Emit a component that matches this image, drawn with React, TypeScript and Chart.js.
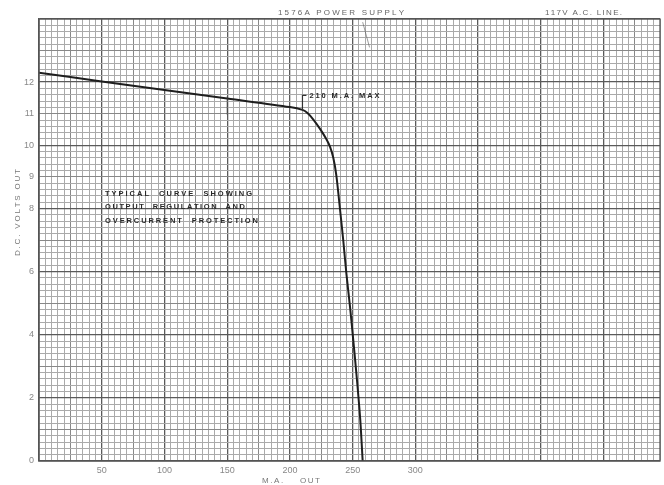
import React, { useEffect, useRef } from 'react';
import { Chart, registerables } from 'chart.js';

Chart.register(...registerables);

// ---- data ----
const currentMA = [0, 50, 100, 150, 200, 210, 214, 219, 224, 229, 232, 234.5, 237, 240, 242.5, 245, 248, 250.5, 253, 256, 258];
const voltsOut = [12.3, 12.02, 11.75, 11.48, 11.21, 11.12, 11.02, 10.8, 10.52, 10.2, 9.95, 9.62, 9.05, 7.95, 7.0, 5.94, 4.85, 3.83, 2.77, 1.35, 0];
const xTickLabels = [50, 100, 150, 200, 250, 300];
const yTickLabels = [0, 2, 4, 6, 8, 9, 10, 11, 12];
const xRange = [0, 495];
const yRange = [0, 14];
const headerLeft = '1576A POWER SUPPLY';
const headerRight = '117V A.C. LINE.';
const xTitle = 'M.A.    OUT';
const yTitle = 'D.C. VOLTS OUT';
const maxNote = '210 M.A. MAX';
const maxNoteAt = 210;
const noteLines = ['TYPICAL  CURVE  SHOWING', 'OUTPUT  REGULATION  AND', 'OVERCURRENT  PROTECTION'];

const FONT = '"Liberation Sans", "DejaVu Sans", sans-serif';

function drawSpaced(ctx: CanvasRenderingContext2D, text: string, x: number, y: number, width: number) {
  const chars = text.split('');
  const base = chars.reduce((s, c) => s + ctx.measureText(c).width, 0);
  const gap = chars.length > 1 ? (width - base) / (chars.length - 1) : 0;
  let cx = x;
  for (const c of chars) {
    ctx.fillText(c, cx, y);
    cx += ctx.measureText(c).width + gap;
  }
}

const annotations = {
  id: 'annotations',
  afterDatasetsDraw(chart: any) {
    const { ctx, chartArea, scales } = chart;
    const xs = scales.x;
    const ys = scales.y;
    ctx.save();
    // plot frame
    ctx.strokeStyle = '#555';
    ctx.lineWidth = 1.3;
    ctx.strokeRect(chartArea.left, chartArea.top, chartArea.right - chartArea.left, chartArea.bottom - chartArea.top);

    ctx.textBaseline = 'middle';
    ctx.textAlign = 'left';
    // header texts
    ctx.fillStyle = '#666';
    ctx.font = `8px ${FONT}`;
    drawSpaced(ctx, headerLeft, 278, 13, 126);
    drawSpaced(ctx, headerRight, 545, 13, 77);

    // note block
    ctx.fillStyle = '#2a2a2a';
    ctx.font = `bold 7.5px ${FONT}`;
    drawSpaced(ctx, noteLines[0], 105, 194, 147);
    drawSpaced(ctx, noteLines[1], 105, 207, 140);
    drawSpaced(ctx, noteLines[2], 105, 221, 153);

    // max marker
    const mx = xs.getPixelForValue(maxNoteAt);
    const yCurve = ys.getPixelForValue(11.12);
    const yTop = ys.getPixelForValue(11.58);
    ctx.strokeStyle = '#333';
    ctx.lineWidth = 1.2;
    ctx.beginPath();
    ctx.moveTo(mx, yCurve);
    ctx.lineTo(mx, yTop);
    ctx.lineTo(mx + 4, yTop);
    ctx.stroke();
    ctx.fillStyle = '#2a2a2a';
    drawSpaced(ctx, maxNote, mx + 7, yTop + 1, 70);

    // pencil marks from the scan
    ctx.strokeStyle = 'rgba(60,60,60,0.8)';
    ctx.lineWidth = 1;
    ctx.beginPath();
    ctx.moveTo(xs.getPixelForValue(150), ys.getPixelForValue(11.55));
    ctx.lineTo(xs.getPixelForValue(150), ys.getPixelForValue(10.97));
    ctx.stroke();
    ctx.strokeStyle = 'rgba(90,90,90,0.6)';
    ctx.beginPath();
    ctx.moveTo(xs.getPixelForValue(258), ys.getPixelForValue(13.9));
    ctx.lineTo(xs.getPixelForValue(263.5), ys.getPixelForValue(13.1));
    ctx.stroke();

    // axis titles
    ctx.fillStyle = '#777';
    ctx.font = `8px ${FONT}`;
    drawSpaced(ctx, xTitle, 262, 481, 58);
    ctx.translate(18, 213);
    ctx.rotate(-Math.PI / 2);
    drawSpaced(ctx, yTitle, -43, 0, 87);
    ctx.restore();
  },
};

function gridColorX(c: any) {
  const v = Math.round(c.tick.value);
  if (v % 50 === 0) return '#5a5a5a';
  if (v % 25 === 0) return '#888';
  return '#aaa';
}
function gridWidthX(c: any) {
  const v = Math.round(c.tick.value);
  return v % 50 === 0 ? 1.3 : 1;
}
function gridColorY(c: any) {
  const v = Math.round(c.tick.value * 5);
  if (v % 10 === 0) return '#5a5a5a';
  if (v % 5 === 0) return '#888';
  return '#aaa';
}
function gridWidthY(c: any) {
  const v = Math.round(c.tick.value * 5);
  return v % 10 === 0 ? 1.3 : 1;
}

export default function App() {
  const ref = useRef<HTMLCanvasElement>(null);
  useEffect(() => {
    if (!ref.current) return;
    const chart = new Chart(ref.current, {
      type: 'line',
      data: {
        datasets: [
          {
            data: currentMA.map((x, i) => ({ x, y: voltsOut[i] })),
            borderColor: '#1e1e1e',
            borderWidth: 2,
            pointRadius: 0,
            tension: 0.3,
            fill: false,
          },
        ],
      },
      options: {
        animation: false,
        responsive: false,
        devicePixelRatio: 1,
        layout: { padding: { top: 19, right: 4, left: 0, bottom: 0 } },
        plugins: { legend: { display: false }, tooltip: { enabled: false } },
        scales: {
          x: {
            type: 'linear',
            min: xRange[0],
            max: xRange[1],
            afterFit: (s: any) => { s.height = 24; },
            ticks: {
              stepSize: 5,
              autoSkip: false,
              maxTicksLimit: 500,
              maxRotation: 0,
              padding: 4,
              color: '#888',
              font: { family: FONT, size: 9 },
              callback: (v: any) => (xTickLabels.includes(Math.round(Number(v))) ? String(Math.round(Number(v))) : ''),
            },
            grid: { color: gridColorX, lineWidth: gridWidthX, drawTicks: false },
            border: { color: '#555', width: 1.3 },
          },
          y: {
            type: 'linear',
            min: yRange[0],
            max: yRange[1],
            afterFit: (s: any) => { s.width = 39; },
            ticks: {
              stepSize: 0.2,
              autoSkip: false,
              maxTicksLimit: 500,
              padding: 5,
              color: '#888',
              font: { family: FONT, size: 9 },
              callback: (v: any) => {
                const n = Math.round(Number(v) * 10) / 10;
                return yTickLabels.includes(n) ? String(n) : '';
              },
            },
            grid: { color: gridColorY, lineWidth: gridWidthY, drawTicks: false },
            border: { color: '#555', width: 1.3 },
          },
        },
      },
      plugins: [annotations],
    } as any);
    return () => chart.destroy();
  }, []);
  return (
    <div style={{ position: 'fixed', left: 0, top: 0, width: 664, height: 485, background: '#fff' }}>
      <canvas ref={ref} width={664} height={485} style={{ display: 'block' }} />
    </div>
  );
}
